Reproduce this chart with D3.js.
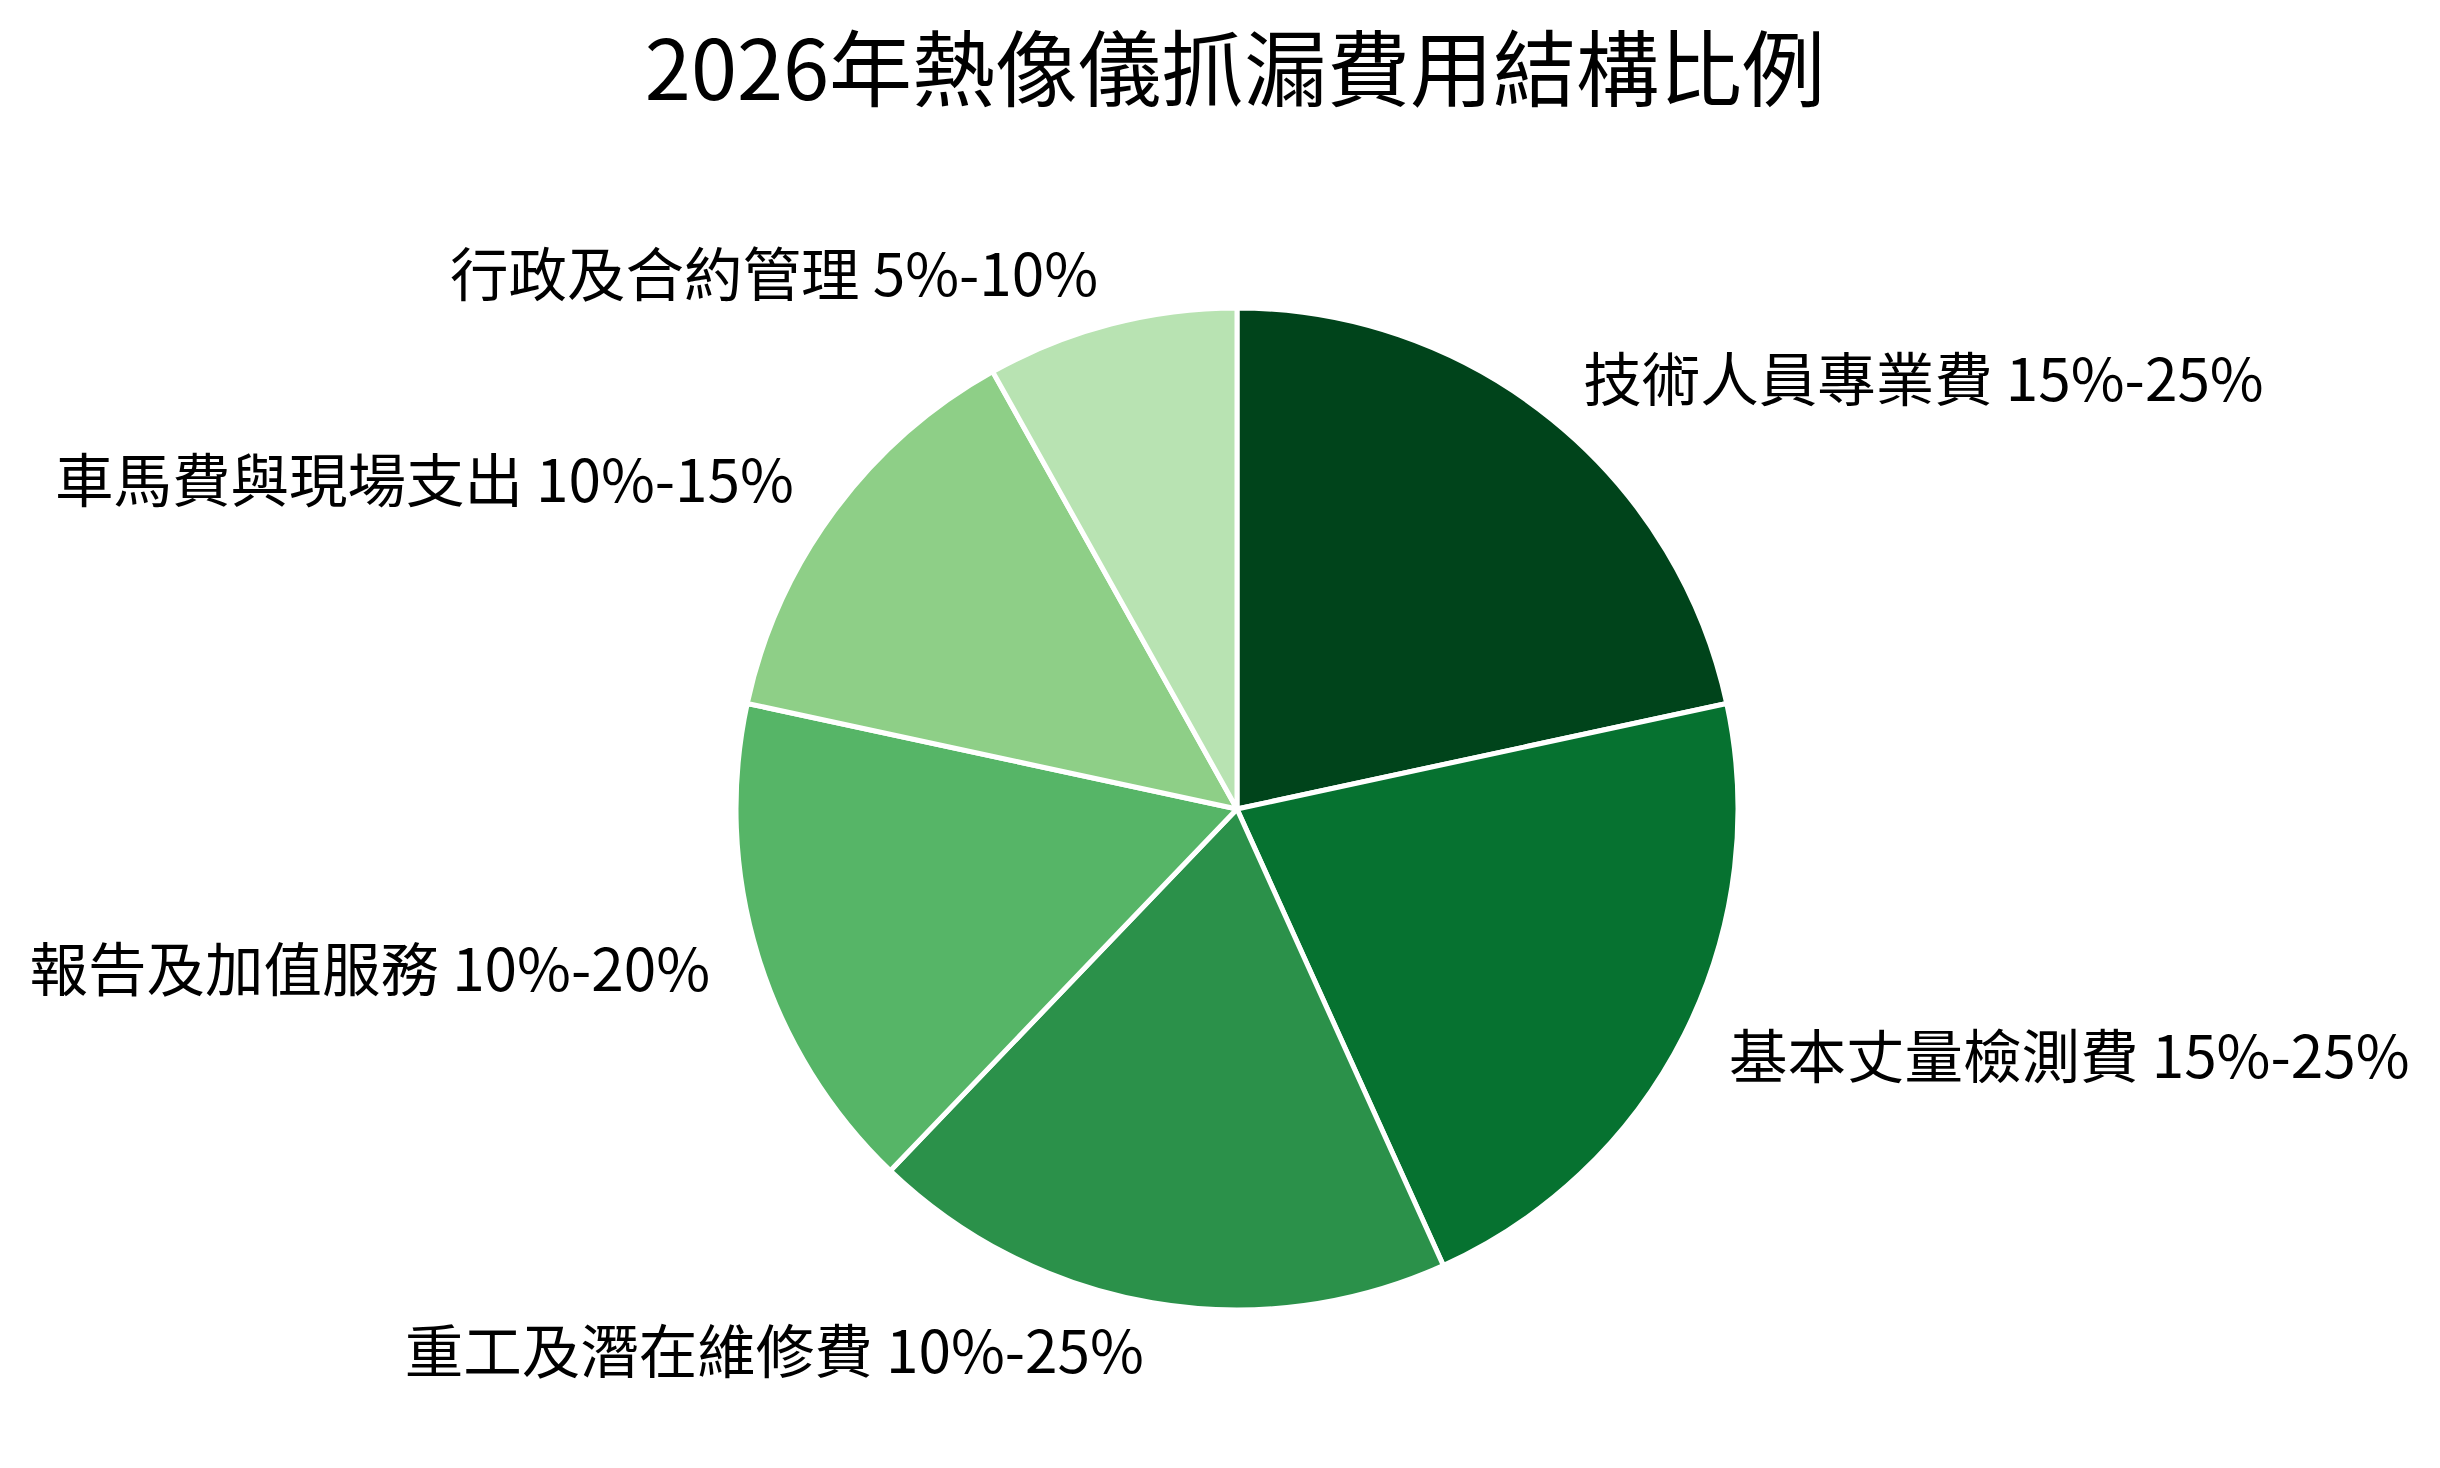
<!DOCTYPE html>
<html>
<head>
<meta charset="utf-8">
<script src="https://cdn.jsdelivr.net/npm/d3@7"></script>
<style>
  body { margin: 0; background: #fff; }
  text { font-family: "Noto Sans CJK TC", "Noto Sans CJK SC", sans-serif; fill: #000; }
</style>
</head>
<body>
<div id="chart"></div>
<script>
// categories and midpoint shares of each cost range
var categories = [
    '技術人員專業費 15%-25%',
    '基本丈量檢測費 15%-25%',
    '重工及潛在維修費 10%-25%',
    '報告及加值服務 10%-20%',
    '車馬費與現場支出 10%-15%',
    '行政及合約管理 5%-10%'
];
var values = [20, 20, 17.5, 15, 12.5, 7.5];
var colors = ['#00441b', '#067230', '#2b914a', '#56b567', '#8ecf87', '#b8e3b2'];

var title = '2026年熱像儀抓漏費用結構比例';

var width = 2440,
    height = 1468,
    cx = 1237,
    cy = 809,
    radius = 501;

var svg = d3.select('#chart')
    .append('svg')
    .attr('width', width)
    .attr('height', height);

// title
svg.append('text')
    .attr('x', 1235)
    .attr('y', 64)
    .attr('text-anchor', 'middle')
    .attr('dominant-baseline', 'central')
    .attr('font-size', 83)
    .text(title);

var pie = d3.pie()
    .sort(null)
    .value(d => d.value);

var data = categories.map((c, i) => ({ name: c, value: values[i], color: colors[i] }));
var arcs = pie(data);

var arc = d3.arc()
    .innerRadius(0)
    .outerRadius(radius);

var chart = svg.append('g')
    .attr('transform', 'translate(' + cx + ',' + cy + ')');

// slices
chart.selectAll('path.slice')
    .data(arcs)
    .enter()
    .append('path')
    .attr('class', 'slice')
    .attr('d', arc)
    .attr('fill', d => d.data.color)
    .attr('stroke', '#fff')
    .attr('stroke-width', 5)
    .attr('stroke-linejoin', 'round');

// labels at 1.1 x radius
chart.selectAll('text.label')
    .data(arcs)
    .enter()
    .append('text')
    .attr('class', 'label')
    .each(function(d) {
        var mid = (d.startAngle + d.endAngle) / 2;
        var r = radius * 1.1;
        var x = r * Math.sin(mid);
        var y = -r * Math.cos(mid);
        d3.select(this)
            .attr('x', x)
            .attr('y', y - 5)
            .attr('text-anchor', x >= 0 ? 'start' : 'end')
            .attr('dominant-baseline', 'central');
    })
    .attr('font-size', 58.5)
    .text(d => d.data.name);
</script>
</body>
</html>
